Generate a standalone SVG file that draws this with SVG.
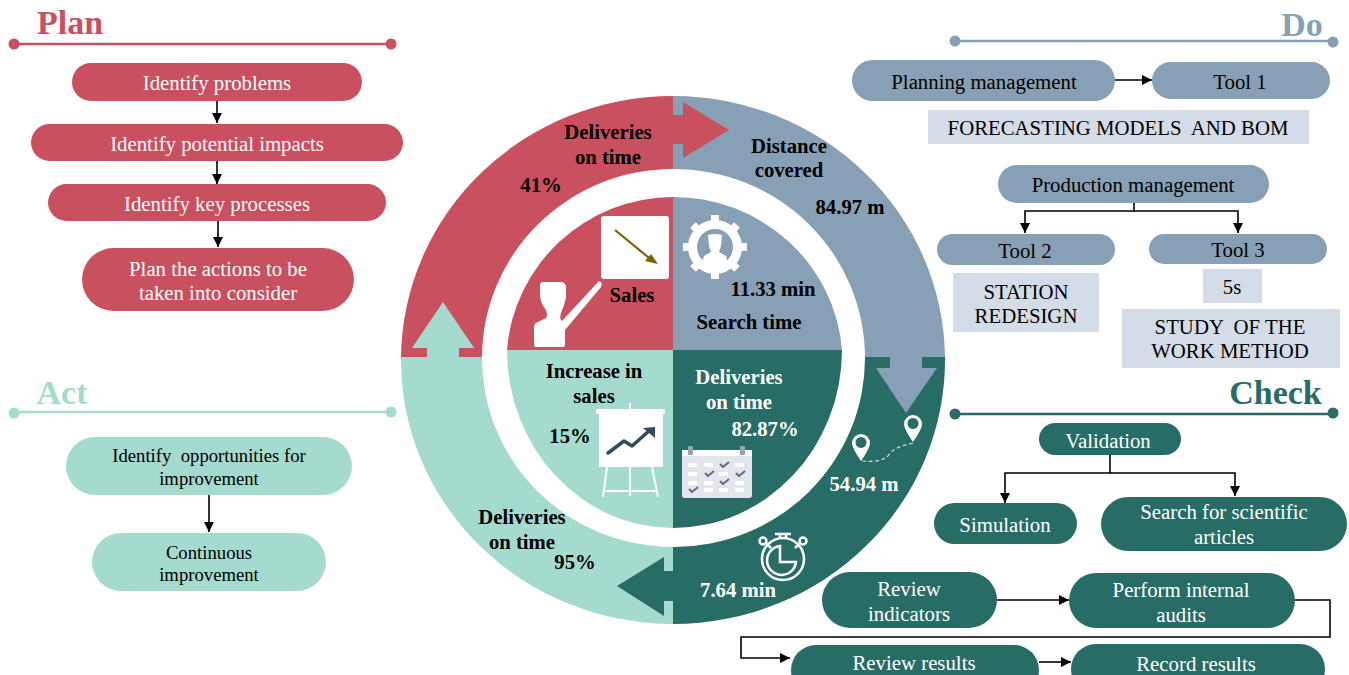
<svg xmlns="http://www.w3.org/2000/svg" width="1349" height="675" viewBox="0 0 1349 675">
<style>
text{font-family:"Liberation Serif","Times New Roman",serif;text-anchor:middle;white-space:pre;transform:translateY(.7px)}
.n{font-size:20.8px;fill:#fff}
.d{font-size:20.8px;fill:#000}
.s{font-size:18.7px;fill:#000}
.b{font-size:20.7px;font-weight:bold;fill:#000}
.w{font-size:20.7px;font-weight:bold;fill:#fff}
.h{font-size:34px;font-weight:bold}
.red{fill:#c9505e}.blue{fill:#87a0b5}.green{fill:#276d65}.teal{fill:#a5dbce}.pale{fill:#d4dce8}
.c{fill:none;stroke:#000;stroke-width:1.6}
.ic{fill:#fff}
</style>
<defs>
<marker id="a" markerWidth="10" markerHeight="10" refX="8" refY="4" orient="auto" markerUnits="userSpaceOnUse" viewBox="0 0 8 8"><path d="M0 0L8 4L0 8Z" fill="#000"/></marker>
</defs>
<g id="wheel">
<path class="red" d="M673 96A272 264 0 0 0 401 357H482A191 189 0 0 1 673 169Z"/>
<path class="blue" d="M673 96A272 264 0 0 1 945 357H865A191 189 0 0 0 673 169Z"/>
<path class="green" d="M945 357A272 264 0 0 1 673 624V547A191 189 0 0 0 865 357Z"/>
<path class="teal" d="M673 624A272 264 0 0 1 401 357H482A191 189 0 0 0 673 547Z"/>
<path class="red" d="M673 197A167 166 0 0 0 507 350H673Z"/>
<path class="blue" d="M673 197A169 166 0 0 1 842 350H673Z"/>
<path class="green" d="M842 350A169 178 0 0 1 673 528V350Z"/>
<path class="teal" d="M673 528A166 178 0 0 1 507 350H673Z"/>
<path class="red" d="M673 115H683V102L729 130L683 158V144H673Z"/>
<path class="blue" d="M890 357V368H876L906 413L937 368H922V357Z"/>
<path class="green" d="M673 571H664V557L617 586L664 616V601H673Z"/>
<path class="teal" d="M427 357V348H412L443 302L474 348H459V357Z"/>
</g>
<g id="icons">
<rect class="ic" x="601" y="216" width="68" height="63" rx="3"/>
<path d="M615 230L654 262" stroke="#7f6000" stroke-width="2.2" fill="none"/>
<path d="M658 264L645 261L651 254Z" fill="#7f6000"/>
<path class="ic" d="M543 282H562Q566 283 566 288V298Q564 306 561 313Q559 318 562 321L599 281Q603 282 601 287L565 330V345Q565 347 563 347H536Q534 347 534 345V327Q534 323 538 322L546 318Q548 315 546 310Q541 304 540 296V286Q540 282 543 282Z"/>
<g transform="translate(715,247)">
<circle r="22.5" fill="none" stroke="#fff" stroke-width="9"/>
<path stroke="#fff" stroke-width="8" d="M0-32V-26M0 26V32M-32 0H-26M26 0H32M-22-22L-18-18M18 18L22 22M-22 22L-18 18M18-18L22-22"/>
<path class="ic" d="M-7-12Q0-14 7-12L6-1Q5 2 4 5L11 9Q12 11 12 14Q0 24-12 14Q-12 11-11 9L-4 5Q-5 2-6-1Z"/>
</g>
<rect class="ic" x="599" y="413" width="64" height="54"/>
<rect class="ic" x="596" y="409" width="69" height="5" rx="1"/>
<path stroke="#fff" stroke-width="2" d="M630 403V496M607 467L603 497M652 467L658 497M604 491H657" fill="none"/>
<path d="M608 453L624 441L632 446L650 430" fill="none" stroke="#34495e" stroke-width="3.5" stroke-linecap="round" stroke-linejoin="round"/>
<path d="M643 428L655 427L655 438Z" fill="#34495e"/>
<rect x="682" y="450" width="70" height="48" rx="3" fill="#e3e7ec"/>
<rect x="682" y="450" width="70" height="6" fill="#fff"/>
<rect x="688" y="446" width="5" height="9" rx="1" fill="#9aa3b2"/>
<rect x="740" y="446" width="5" height="9" rx="1" fill="#9aa3b2"/>
<path fill="#fff" d="M688 463h9v4h-9zM704 463h9v4h-9zM735 463h9v4h-9zM688 472h9v4h-9zM719 472h9v4h-9zM688 481h9v4h-9zM704 481h9v4h-9zM735 481h9v4h-9zM704 488h9v4h-9zM719 488h9v4h-9zM735 488h9v4h-9z"/>
<path fill="none" stroke="#5b6b80" stroke-width="2" d="M720 464l3 3 6-5M705 473l3 3 6-5M736 473l3 3 6-5M720 481l3 3 6-5M689 489l3 3 6-5"/>
<path class="ic" fill-rule="evenodd" d="M861 461Q852 448 852 443A9 9 0 0 1 870 443Q870 448 861 461ZM861 437A5.5 5.5 0 1 0 861.01 437Z"/>
<path class="ic" fill-rule="evenodd" d="M913 442Q904 429 904 424A9 9 0 0 1 922 424Q922 429 913 442ZM913 418A5.5 5.5 0 1 0 913.01 418Z"/>
<path d="M862 461Q880 463 888 456Q894 446 915 443" fill="none" stroke="#c8d8d4" stroke-width="1.2" stroke-dasharray="4 2.5"/>
<g fill="none" stroke="#fff" stroke-width="2.5">
<circle cx="783" cy="559" r="21"/>
<path d="M780 546V562H796A14.5 14.5 0 1 1 780 546Z"/>
<path d="M775 534H791M780 534V538M786 534V538M767 544L771 548M799 544L795 548"/>
<circle cx="763" cy="541" r="3.5"/>
<circle cx="803" cy="541" r="3.5"/>
</g>
</g>
<g id="wheel-labels">
<text class="b" x="608" y="138">Deliveries</text><text class="b" x="608" y="163">on time</text><text class="b" x="541" y="191">41%</text>
<text class="b" x="789" y="152">Distance</text><text class="b" x="789" y="176">covered</text><text class="b" x="850" y="213">84.97 m</text>
<text class="b" x="632" y="301">Sales</text>
<text class="b" x="773" y="295">11.33 min</text><text class="b" x="749" y="328">Search time</text>
<text class="b" x="594" y="377">Increase in</text><text class="b" x="594" y="402">sales</text><text class="b" x="570" y="442">15%</text>
<text class="w" x="739" y="383">Deliveries</text><text class="w" x="739" y="408">on time</text><text class="w" x="765" y="435">82.87%</text>
<text class="w" x="864" y="490">54.94 m</text><text class="w" x="738" y="596">7.64 min</text>
<text class="b" x="522" y="523">Deliveries</text><text class="b" x="522" y="548">on time</text><text class="b" x="575" y="568">95%</text>
</g>
<g id="connectors">
<path class="c" d="M217 101V123" marker-end="url(#a)"/>
<path class="c" d="M217 161V184" marker-end="url(#a)"/>
<path class="c" d="M218 221V247" marker-end="url(#a)"/>
<path class="c" d="M209 495V532" marker-end="url(#a)"/>
<path class="c" d="M1115 80H1152" marker-end="url(#a)"/>
<path class="c" d="M1134 203V211H1025V233" marker-end="url(#a)"/>
<path class="c" d="M1134 211H1238V233" marker-end="url(#a)"/>
<path class="c" d="M1110 455V473H1005V503" marker-end="url(#a)"/>
<path class="c" d="M1110 473H1235V496" marker-end="url(#a)"/>
<path class="c" d="M997 600H1069" marker-end="url(#a)"/>
<path class="c" d="M1295 600H1330V637H741V658H790" marker-end="url(#a)"/>
<path class="c" d="M1039 662H1071" marker-end="url(#a)"/>
</g>
<g id="plan">
<path d="M14 44H391" stroke="#c9505e" stroke-width="2.5"/><circle class="red" cx="14" cy="44" r="5.5"/><circle class="red" cx="391" cy="44" r="5.5"/>
<text class="h red" x="70" y="33">Plan</text>
</g>
<g id="plan-1"><rect class="red" x="72" y="63" width="290" height="38" rx="19"/><text class="n" x="217" y="89">Identify problems</text></g>
<g id="plan-2"><rect class="red" x="31" y="124" width="372" height="37" rx="18.5"/><text class="n" x="217" y="150">Identify potential impacts</text></g>
<g id="plan-3"><rect class="red" x="48" y="184" width="338" height="37" rx="18.5"/><text class="n" x="217" y="210">Identify key processes</text></g>
<g id="plan-4"><rect class="red" x="82" y="248" width="272" height="63" rx="31.5"/><text class="n" x="218" y="275">Plan the actions to be</text><text class="n" x="218" y="299">taken into consider</text></g>
<g id="act">
<path d="M14 412H391" stroke="#a5dbce" stroke-width="2.5"/><circle class="teal" cx="14" cy="413" r="5.5"/><circle class="teal" cx="391" cy="412" r="5.5"/>
<text class="h teal" x="62" y="403">Act</text>
</g>
<g id="act-1"><rect class="teal" x="66" y="437" width="286" height="58" rx="29"/><text class="s" x="209" y="461">Identify  opportunities for</text><text class="s" x="209" y="484">improvement</text></g>
<g id="act-2"><rect class="teal" x="92" y="533" width="234" height="58" rx="29"/><text class="s" x="209" y="558">Continuous</text><text class="s" x="209" y="580">improvement</text></g>
<g id="do">
<path d="M955 41H1333" stroke="#87a0b5" stroke-width="2.5"/><circle class="blue" cx="955" cy="41" r="5.5"/><circle class="blue" cx="1333" cy="42" r="5.5"/>
<text class="h blue" x="1302" y="35">Do</text>
</g>
<g id="do-1"><rect class="blue" x="852" y="60" width="263" height="41" rx="20.5"/><text class="d" x="984" y="88">Planning management</text></g>
<g id="do-2"><rect class="blue" x="1152" y="62" width="178" height="37" rx="18.5"/><text class="d" x="1240" y="88">Tool 1</text></g>
<g id="do-3"><rect class="pale" x="928" y="110" width="381" height="34"/><text class="d" x="1118" y="134">FORECASTING MODELS  AND BOM</text></g>
<g id="do-4"><rect class="blue" x="998" y="165" width="271" height="38" rx="19"/><text class="d" x="1133" y="191">Production management</text></g>
<g id="do-5"><rect class="blue" x="937" y="234" width="178" height="31" rx="15.5"/><text class="d" x="1025" y="257">Tool 2</text></g>
<g id="do-6"><rect class="blue" x="1149" y="234" width="178" height="30" rx="15"/><text class="d" x="1238" y="256">Tool 3</text></g>
<g id="do-7"><rect class="pale" x="953" y="273" width="146" height="59"/><text class="d" x="1026" y="298">STATION</text><text class="d" x="1026" y="322">REDESIGN</text></g>
<g id="do-8"><rect class="pale" x="1203" y="269" width="59" height="34"/><text class="d" x="1232" y="293">5s</text></g>
<g id="do-9"><rect class="pale" x="1122" y="309" width="218" height="59"/><text class="d" x="1230" y="333">STUDY  OF THE</text><text class="d" x="1230" y="357">WORK METHOD</text></g>
<g id="check">
<path d="M955 414H1333" stroke="#276d65" stroke-width="2.5"/><circle class="green" cx="955" cy="414" r="5.5"/><circle class="green" cx="1333" cy="413" r="5.5"/>
<text class="h green" x="1275.5" y="403">Check</text>
</g>
<g id="check-1"><rect class="green" x="1039" y="423" width="142" height="32" rx="16"/><text class="n" x="1108" y="447">Validation</text></g>
<g id="check-2"><rect class="green" x="934" y="503" width="143" height="41" rx="20.5"/><text class="n" x="1005" y="531">Simulation</text></g>
<g id="check-3"><rect class="green" x="1101" y="497" width="246" height="54" rx="27"/><text class="n" x="1224" y="518">Search for scientific</text><text class="n" x="1224" y="543">articles</text></g>
<g id="check-4"><rect class="green" x="822" y="572" width="175" height="56" rx="28"/><text class="n" x="909" y="595">Review</text><text class="n" x="909" y="620">indicators</text></g>
<g id="check-5"><rect class="green" x="1069" y="573" width="226" height="55" rx="27.5"/><text class="n" x="1181" y="596">Perform internal</text><text class="n" x="1181" y="621">audits</text></g>
<g id="check-6"><rect class="green" x="791" y="645" width="248" height="50" rx="25"/><text class="n" x="914" y="669">Review results</text></g>
<g id="check-7"><rect class="green" x="1071" y="644" width="254" height="50" rx="25"/><text class="n" x="1196" y="670">Record results</text></g>
</svg>
